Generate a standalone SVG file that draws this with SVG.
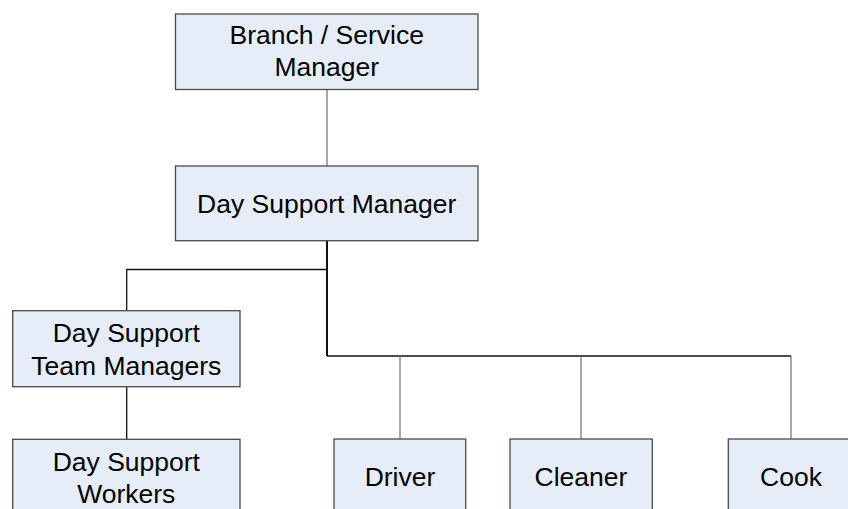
<svg xmlns="http://www.w3.org/2000/svg" width="848" height="509" viewBox="0 0 848 509">
<style>
.box{fill:#E7EDF8;stroke:#4a4a4a;stroke-width:1.3}
.t{font-family:"Liberation Sans",Arial,sans-serif;font-size:26.5px;fill:#000;text-anchor:middle}
.c{fill:none;stroke:#6e6e6e;stroke-width:1.2}
.k{fill:none;stroke:#111;stroke-width:1.3}
</style>
<rect width="848" height="509" fill="#fff"/>
<g id="connectors">
<line class="c" x1="327" y1="89.5" x2="327" y2="166"/>
<line class="k" x1="327" y1="240.7" x2="327" y2="356" style="stroke-width:2"/>
<polyline class="k" points="327,269.5 126.7,269.5 126.7,310.7"/>
<polyline class="k" points="327,356 791,356"/>
<line class="c" x1="400" y1="356" x2="400" y2="439"/>
<line class="c" x1="581" y1="356" x2="581" y2="439"/>
<line class="c" x1="791" y1="356" x2="791" y2="439"/>
<line class="k" x1="126.7" y1="386.7" x2="126.7" y2="439.3"/>
</g>
<g id="branch-manager">
<rect class="box" x="175.5" y="14" width="302.5" height="75.5"/>
<text class="t" x="326.75" y="43.5">Branch / Service</text>
<text class="t" x="326.75" y="75.5">Manager</text>
</g>
<g id="day-support-manager">
<rect class="box" x="175.5" y="166" width="302.5" height="74.7"/>
<text class="t" x="326.75" y="213">Day Support Manager</text>
</g>
<g id="team-managers">
<rect class="box" x="12.7" y="310.7" width="227.3" height="76"/>
<text class="t" x="126.3" y="342.3">Day Support</text>
<text class="t" x="126.3" y="375">Team Managers</text>
</g>
<g id="workers">
<rect class="box" x="12.7" y="439.3" width="227.3" height="80"/>
<text class="t" x="126.3" y="470.7">Day Support</text>
<text class="t" x="126.3" y="503.3">Workers</text>
</g>
<g id="driver">
<rect class="box" x="334" y="439" width="131.7" height="80"/>
<text class="t" x="400" y="485.7">Driver</text>
</g>
<g id="cleaner">
<rect class="box" x="510" y="439" width="142.3" height="80"/>
<text class="t" x="581" y="485.7">Cleaner</text>
</g>
<g id="cook">
<rect class="box" x="728.3" y="439" width="125.4" height="80"/>
<text class="t" x="791" y="485.7">Cook</text>
</g>
</svg>
